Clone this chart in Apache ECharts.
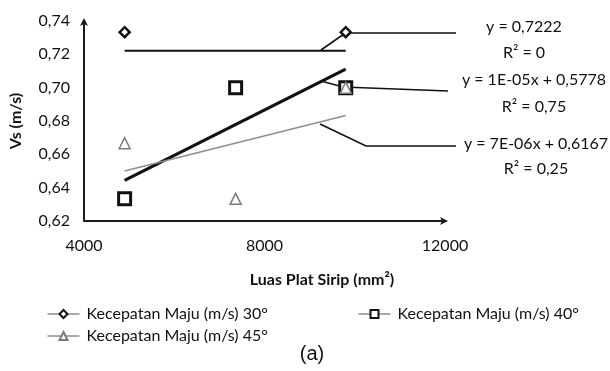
<!DOCTYPE html>
<html>
<head>
<meta charset="utf-8">
<script src="https://cdn.jsdelivr.net/npm/echarts@6/dist/echarts.min.js"></script>
<style>html,body{margin:0;padding:0;background:#fff}#c{width:610px;height:371px}</style>
</head>
<body>
<div id="c"></div>
<script>
// ---- data ----
const xValues = [4900, 7360, 9800];          // Luas Plat Sirip (mm²)
const v30 = [0.7333, 0.7000, 0.7333];        // Kecepatan Maju (m/s) 30°
const v40 = [0.6333, 0.7000, 0.7000];        // Kecepatan Maju (m/s) 40°
const v45 = [0.6667, 0.6333, 0.7000];        // Kecepatan Maju (m/s) 45°
const trendX = [4900, 9800];                 // trendline x range
const trend30 = [0.7222, 0.7222];
const trend40 = [0.6444, 0.7111];
const trend45 = [0.6500, 0.6833];
const seriesNames = ['Kecepatan Maju (m/s) 30°', 'Kecepatan Maju (m/s) 40°', 'Kecepatan Maju (m/s) 45°'];
const eqLabels = [['y = 0,7222', 'R² = 0'], ['y = 1E-05x + 0,5778', 'R² = 0,75'], ['y = 7E-06x + 0,6167', 'R² = 0,25']];
const xTicks = [4000, 8000, 12000];
const yTicks = [0.62, 0.64, 0.66, 0.68, 0.70, 0.72, 0.74];

const FONT = 'Lato, "Open Sans", sans-serif';
const FS = 16;
const TXT = '#111';
const pair = (xs, ys) => xs.map((x, i) => [x, ys[i]]);

const chart = echarts.init(document.getElementById('c'), null, {renderer: 'canvas'});

function legendAt(name, left, top) {
  return {
    data: [name], left: left, top: top, orient: 'horizontal', padding: 0,
    itemWidth: 32, itemHeight: 10, itemGap: 0,
    textStyle: {fontFamily: FONT, fontSize: FS, color: TXT, padding: [0, 0, 0, 2]},
    lineStyle: {width: 1, opacity: 1, color: '#555'}
  };
}

const option = {
  animation: false,
  backgroundColor: '#fff',
  grid: {left: 81, right: 165, top: 21, bottom: 150, containLabel: false},
  xAxis: {
    type: 'value', min: xTicks[0], max: xTicks[xTicks.length - 1], interval: 4000,
    axisLine: {show: true, lineStyle: {color: '#1a1a1a', width: 2}, symbol: ['none', 'arrow'], symbolSize: [6, 8], symbolOffset: [0, 3]},
    axisTick: {show: false}, splitLine: {show: false},
    axisLabel: {fontFamily: FONT, fontSize: FS, color: TXT, margin: 17, formatter: v => String(v)}
  },
  yAxis: {
    type: 'value', min: yTicks[0], max: yTicks[yTicks.length - 1], interval: 0.02,
    name: 'Vs (m/s)', nameLocation: 'middle', nameGap: 60,
    nameTextStyle: {fontFamily: FONT, fontSize: FS, fontWeight: 'bold', color: TXT},
    axisLine: {show: true, lineStyle: {color: '#1a1a1a', width: 2}, symbol: ['none', 'arrow'], symbolSize: [6, 8], symbolOffset: [0, 3]},
    axisTick: {show: false}, splitLine: {show: false},
    axisLabel: {fontFamily: FONT, fontSize: FS, color: TXT, margin: 14,
      formatter: v => v.toFixed(2).replace('.', ',')}
  },
  legend: [
    legendAt(seriesNames[0], 47, 306),
    legendAt(seriesNames[1], 358, 306),
    legendAt(seriesNames[2], 47, 328)
  ],
  series: [
    {type: 'line', name: 'trend30', data: pair(trendX, trend30), showSymbol: false, symbol: 'none',
     lineStyle: {color: '#111', width: 2}, z: 1, silent: true},
    {type: 'line', name: 'trend40', data: pair(trendX, trend40), showSymbol: false, symbol: 'none',
     lineStyle: {color: '#111', width: 3.2}, z: 1, silent: true},
    {type: 'line', name: 'trend45', data: pair(trendX, trend45), showSymbol: false, symbol: 'none',
     lineStyle: {color: '#8f8f8f', width: 1.8}, z: 1, silent: true},
    {type: 'line', name: seriesNames[0], data: pair(xValues, v30), symbol: 'diamond', symbolSize: 10,
     itemStyle: {color: '#fff', borderColor: '#111', borderWidth: 2.5},
     lineStyle: {width: 0, opacity: 0}, z: 3},
    {type: 'line', name: seriesNames[1], data: pair(xValues, v40), symbol: 'rect', symbolSize: 12,
     itemStyle: {color: '#fff', borderColor: '#111', borderWidth: 3},
     lineStyle: {width: 0, opacity: 0}, z: 4},
    {type: 'line', name: seriesNames[2], data: pair(xValues, v45), symbol: 'triangle', symbolSize: 11,
     itemStyle: {color: '#fff', borderColor: '#7a7a7a', borderWidth: 1.5},
     lineStyle: {width: 0, opacity: 0}, z: 5}
  ],
  graphic: [
    {type: 'text', x: 322, y: 280, style: {text: 'Luas Plat Sirip (mm²)', fontFamily: FONT, fontSize: FS, fontWeight: 'bold', fill: TXT, align: 'center', verticalAlign: 'middle'}},
    {type: 'text', x: 312, y: 354, style: {text: '(a)', fontFamily: '"Liberation Sans", Arial, sans-serif', fontSize: 20, fill: TXT, align: 'center', verticalAlign: 'middle'}},
    {type: 'text', x: 524, y: 40, style: {text: eqLabels[0].join('\n'), fontFamily: FONT, fontSize: FS, lineHeight: 26, fill: TXT, align: 'center', verticalAlign: 'middle'}},
    {type: 'text', x: 534, y: 93, style: {text: eqLabels[1].join('\n'), fontFamily: FONT, fontSize: FS, lineHeight: 27, fill: TXT, align: 'center', verticalAlign: 'middle'}},
    {type: 'text', x: 536, y: 156, style: {text: eqLabels[2].join('\n'), fontFamily: FONT, fontSize: FS, lineHeight: 25, fill: TXT, align: 'center', verticalAlign: 'middle'}},
    {type: 'polyline', shape: {points: [[321, 50], [341, 36], [350, 33], [456, 33]]}, style: {stroke: '#111', lineWidth: 1.6, fill: null}},
    {type: 'polyline', shape: {points: [[321, 81], [343, 87], [448, 91]]}, style: {stroke: '#111', lineWidth: 1.6, fill: null}},
    {type: 'polyline', shape: {points: [[320, 124], [366, 146], [456, 146]]}, style: {stroke: '#111', lineWidth: 1.6, fill: null}}
  ]
};
chart.setOption(option);
</script>
</body>
</html>
